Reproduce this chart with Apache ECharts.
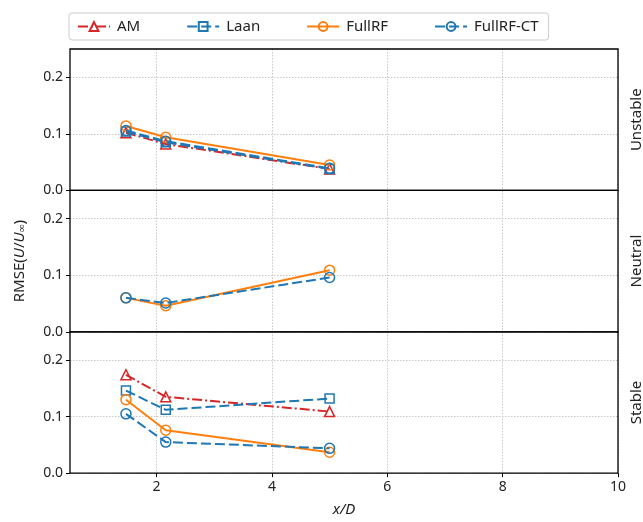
<!DOCTYPE html>
<html>
<head>
<meta charset="utf-8">
<script src="https://cdn.jsdelivr.net/npm/echarts@6/dist/echarts.min.js"></script>
<style>html,body{margin:0;padding:0;background:#fff}#c{width:643px;height:522px}</style>
</head>
<body>
<div id="c"></div>
<script>
// ---- data ----
const xPos = [1.47, 2.16, 5.0];
const panels = ['Unstable', 'Neutral', 'Stable'];
const seriesNames = ['AM', 'Laan', 'FullRF', 'FullRF-CT'];
const xTicks = [2, 4, 6, 8, 10];
const yTicks = [0, 0.1, 0.2];

const unstableAM = [0.102, 0.082, 0.038];
const unstableLaan = [0.104, 0.085, 0.038];
const unstableFullRF = [0.114, 0.094, 0.045];
const unstableFullRFCT = [0.106, 0.087, 0.039];

const neutralAM = null;
const neutralLaan = null;
const neutralFullRF = [0.060, 0.046, 0.109];
const neutralFullRFCT = [0.060, 0.051, 0.096];

const stableAM = [0.174, 0.135, 0.109];
const stableLaan = [0.146, 0.112, 0.132];
const stableFullRF = [0.130, 0.076, 0.037];
const stableFullRFCT = [0.105, 0.055, 0.044];

const panelData = [
  [unstableAM, unstableLaan, unstableFullRF, unstableFullRFCT],
  [neutralAM, neutralLaan, neutralFullRF, neutralFullRFCT],
  [stableAM, stableLaan, stableFullRF, stableFullRFCT]
];

// ---- styles ----
const FONT = 'Noto Sans';
const styles = {
  'AM': { color: '#d62728', symbol: 'triangle', dash: [10, 3, 2, 3] },
  'Laan': { color: '#1f77b4', symbol: 'rect', dash: [10, 4] },
  'FullRF': { color: '#ff7f0e', symbol: 'circle', dash: 'solid' },
  'FullRF-CT': { color: '#1f77b4', symbol: 'circle', dash: [10, 4] }
};

const gridTop = 49, gridH = 141.4, gridLeft = 70, gridRight = 25;
const gridLineStyle = { color: '#c8c8c8', type: [1.5, 1.5], width: 1 };

const grids = [], xAxes = [], yAxes = [], series = [];
panels.forEach((p, i) => {
  grids.push({
    left: gridLeft, right: gridRight, top: gridTop + i * gridH, height: gridH,
    show: true, borderColor: '#000', borderWidth: 1.3, backgroundColor: 'transparent', z: 10
  });
  const last = i === panels.length - 1;
  xAxes.push({
    type: 'value', gridIndex: i, min: 0.5, max: 10,
    axisLine: { show: false },
    axisTick: { show: last, length: 4, lineStyle: { color: '#000' }, customValues: xTicks },
    axisLabel: { show: last, customValues: xTicks, fontFamily: FONT, fontSize: 14, color: '#222', margin: 7 },
    splitLine: { show: true, lineStyle: gridLineStyle },
    name: last ? 'x/D' : '', nameLocation: 'middle', nameGap: 29,
    nameTextStyle: { fontFamily: FONT, fontSize: 15, fontStyle: 'italic', color: '#222' }
  });
  const y = {
    type: 'value', gridIndex: i, min: 0, max: 0.25,
    axisLine: { show: false },
    axisTick: { show: true, length: 4, lineStyle: { color: '#000' }, customValues: yTicks },
    axisLabel: { customValues: yTicks, formatter: v => v.toFixed(1), fontFamily: FONT, fontSize: 14, color: '#222', margin: 7 },
    splitLine: { show: true, lineStyle: gridLineStyle }
  };
  if (i === 1) {
    y.name = '{n|RMSE(}{i|U}{n|/}{i|U}{s|∞}{n|)}';
    y.nameLocation = 'middle';
    y.nameGap = 43;
    y.nameRotate = 90;
    y.nameTextStyle = {
      rich: {
        n: { fontFamily: FONT, fontSize: 15, color: '#222' },
        i: { fontFamily: FONT, fontSize: 15, fontStyle: 'italic', color: '#222' },
        s: { fontFamily: FONT, fontSize: 11, color: '#222', verticalAlign: 'bottom', lineHeight: 14, padding: [6, 0, 0, 0] }
      }
    };
  }
  yAxes.push(y);

  seriesNames.forEach((name, k) => {
    const vals = panelData[i][k];
    if (!vals) return;
    const st = styles[name];
    series.push({
      name: name, type: 'line', xAxisIndex: i, yAxisIndex: i,
      data: xPos.map((x, j) => [x, vals[j]]),
      symbol: st.symbol, symbolSize: st.symbol === 'rect' ? 9 : 10,
      showSymbol: true,
      itemStyle: { color: 'rgba(0,0,0,0)', borderColor: st.color, borderWidth: 1.5 },
      lineStyle: { color: st.color, width: 2, type: st.dash },
      emphasis: { disabled: true },
      animation: false, z: 2 + k
    });
  });
});

const graphics = panels.map((p, i) => ({
  type: 'text',
  x: 637, y: gridTop + i * gridH + gridH / 2,
  rotation: Math.PI / 2,
  style: { text: p, font: '15px "' + FONT + '"', fill: '#222', align: 'center', verticalAlign: 'middle' }
}));

const chart = echarts.init(document.getElementById('c'), null, { renderer: 'canvas' });
chart.setOption({
  backgroundColor: '#fff',
  animation: false,
  legend: {
    data: seriesNames, left: 69, top: 13,
    padding: [6, 10, 6, 8], itemGap: 46, itemWidth: 32, itemHeight: 11,
    borderColor: '#ccc', borderWidth: 1, borderRadius: 3, backgroundColor: '#fff',
    textStyle: { fontFamily: FONT, fontSize: 15, color: '#222', padding: [0, 0, 0, 2] }
  },
  grid: grids, xAxis: xAxes, yAxis: yAxes, series: series, graphic: graphics
});
</script>
</body>
</html>
